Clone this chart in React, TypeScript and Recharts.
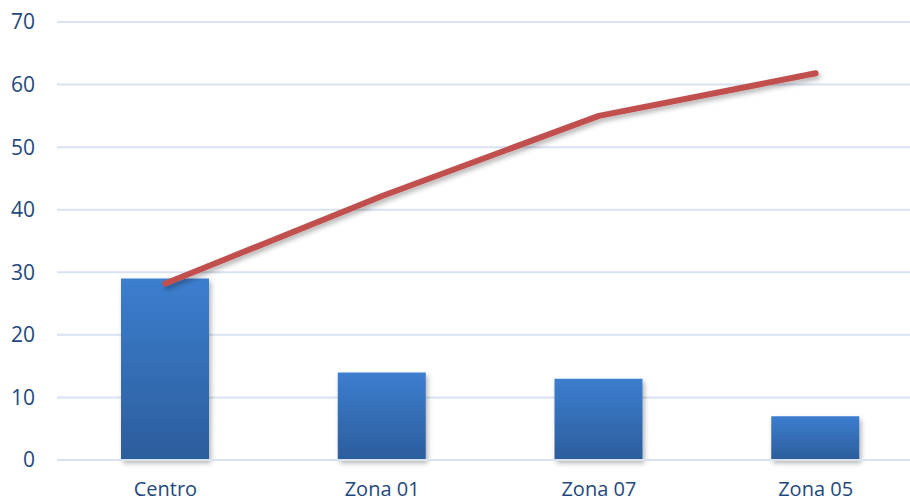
import React from "react";
import { ComposedChart, Bar, Line, XAxis, YAxis, CartesianGrid } from "recharts";

const categories = ["Centro", "Zona 01", "Zona 07", "Zona 05"];
const barValues = [29, 14, 13, 7];
const lineValues = [28.2, 42.2, 55, 61.8];
const yTicks = [0, 10, 20, 30, 40, 50, 60, 70];

const data = categories.map((c, i) => ({ name: c, bar: barValues[i], line: lineValues[i] }));

const font = "'Open Sans', 'Liberation Sans', sans-serif";
const textColor = "#1f497d";

export default function App() {
  return (
    <div style={{ position: "absolute", left: 0, top: 0, width: 910, height: 498, overflow: "hidden", background: "#fff" }}>
      <ComposedChart width={924} height={510} data={data} margin={{ top: 22, right: 0, bottom: 0, left: 0 }}>
        <defs>
          <linearGradient id="barGrad" x1="0" y1="0" x2="0" y2="1">
            <stop offset="0%" stopColor="#3c7ecf" />
            <stop offset="100%" stopColor="#2c5d9c" />
          </linearGradient>
          <filter id="shadow" x="-20%" y="-20%" width="140%" height="140%">
            <feDropShadow dx="2" dy="3" stdDeviation="2.5" floodColor="#000" floodOpacity="0.3" />
          </filter>
        </defs>
        <CartesianGrid vertical={false} stroke="#d9e2f1" strokeWidth={2} />
        <XAxis
          dataKey="name"
          axisLine={{ stroke: "#d9e2f1", strokeWidth: 2 }}
          tickLine={false}
          tickSize={0}
          tickMargin={22}
          height={50}
          tick={{ fill: textColor, fontSize: 20, fontFamily: font }}
        />
        <YAxis
          domain={[0, 70]}
          ticks={yTicks}
          axisLine={false}
          tickLine={false}
          tickSize={0}
          tickMargin={22}
          width={57}
          tick={{ fill: textColor, fontSize: 21, fontFamily: font }}
        />
        <Bar dataKey="bar" barSize={88} fill="url(#barGrad)" isAnimationActive={false} style={{ filter: "url(#shadow)" }} />
        <Line
          dataKey="line"
          stroke="#c0504d"
          strokeWidth={6}
          strokeLinecap="round"
          strokeLinejoin="round"
          dot={false}
          activeDot={false}
          isAnimationActive={false}
          style={{ filter: "url(#shadow)" }}
        />
      </ComposedChart>
    </div>
  );
}
